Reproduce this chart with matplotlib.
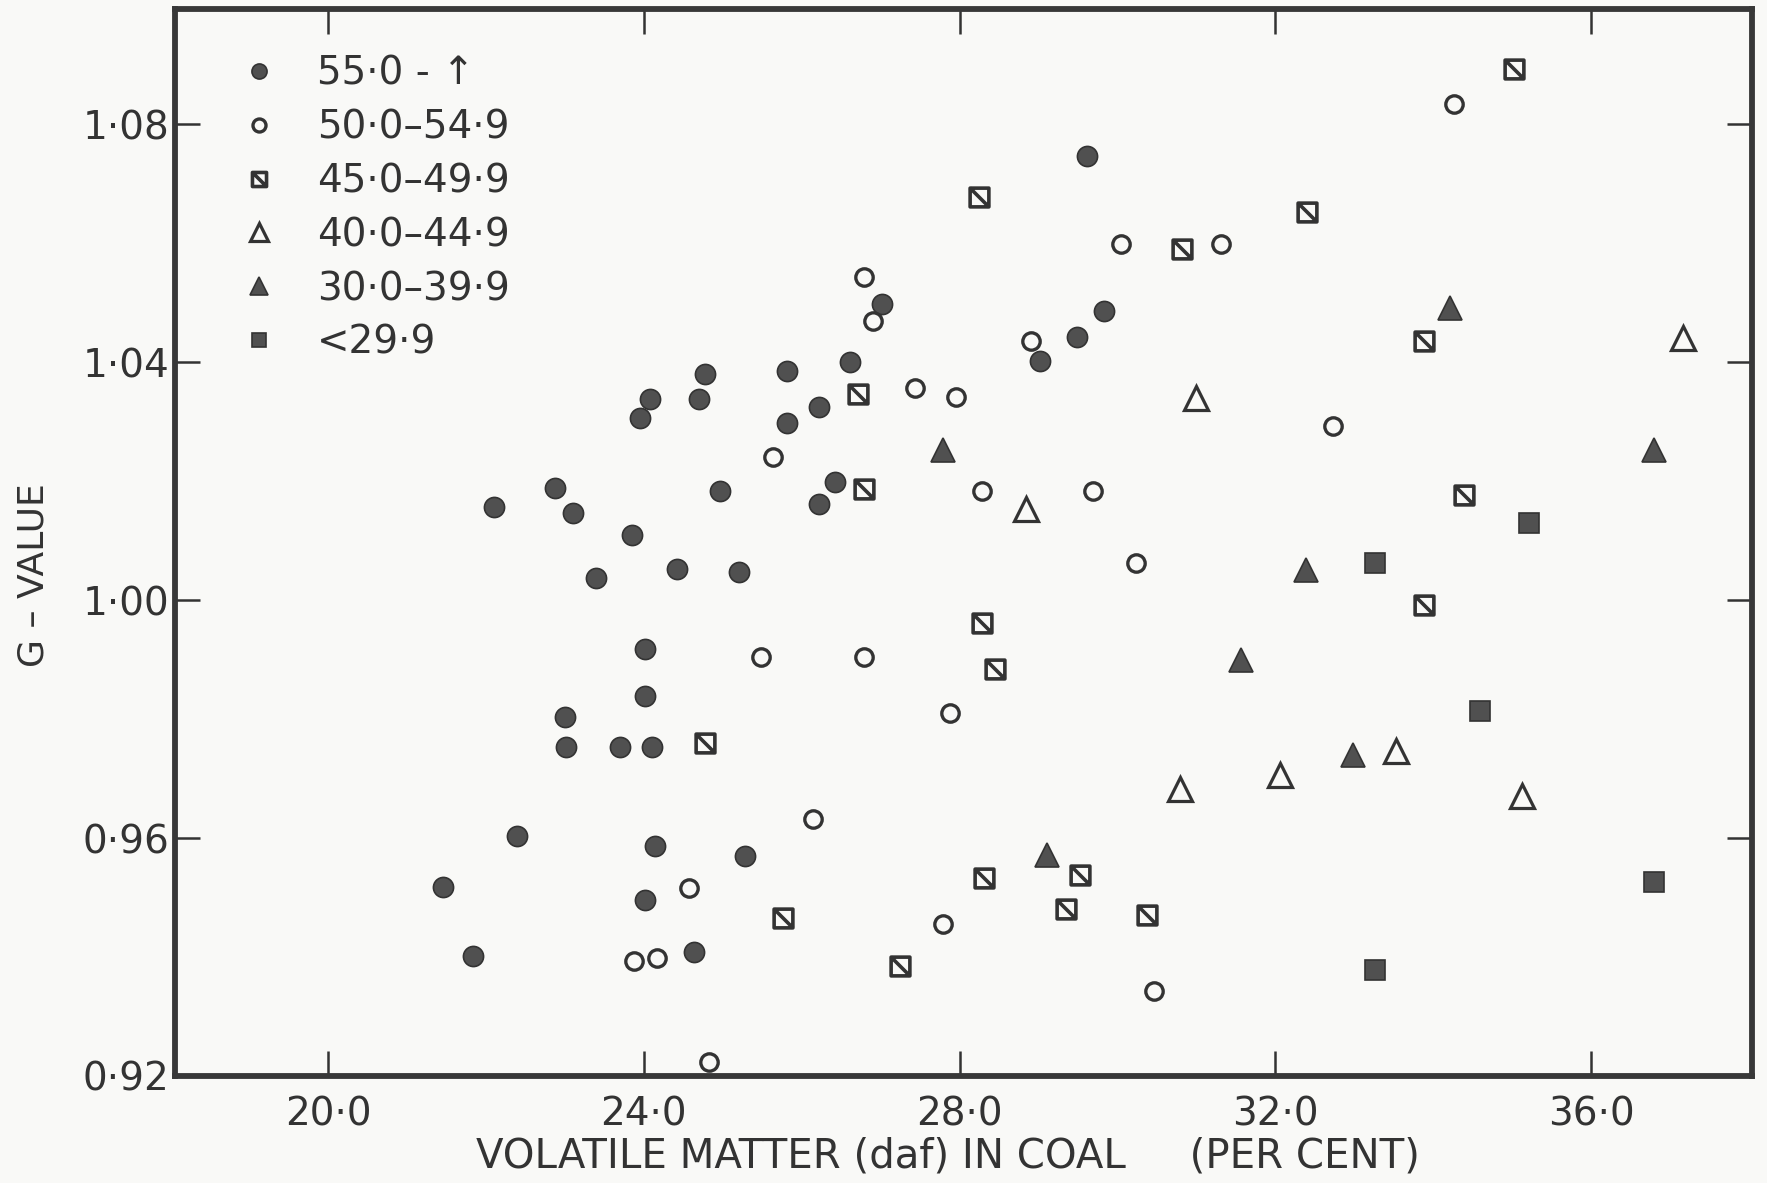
import matplotlib
matplotlib.use('Agg')
import matplotlib.pyplot as plt
from matplotlib.path import Path
from matplotlib.ticker import FuncFormatter

# volatile matter (daf, %) and G-value, grouped by the legend classes
vm_55 = [21.46, 21.84, 22.10, 22.40, 22.88, 23.00, 23.01, 23.10, 23.40, 23.70, 23.85, 23.95,
         24.08, 24.01, 24.01, 24.10, 24.14, 24.01, 24.42, 24.64, 24.70, 24.77, 24.97, 25.20,
         25.28, 25.81, 25.81, 26.22, 26.22, 26.42, 26.61, 27.02, 29.02, 29.49, 29.62, 29.83]
g_55 = [0.9518, 0.9401, 1.0156, 0.9603, 1.0188, 0.9804, 0.9753, 1.0147, 1.0037, 0.9753, 1.0109, 1.0306,
        1.0338, 0.9918, 0.9838, 0.9753, 0.9586, 0.9495, 1.0052, 0.9408, 1.0338, 1.0380, 1.0183, 1.0048,
        0.9569, 1.0385, 1.0298, 1.0325, 1.0162, 1.0198, 1.0400, 1.0497, 1.0402, 1.0442, 1.0747, 1.0486]

vm_50 = [26.79, 26.91, 27.44, 27.95, 25.64, 28.28, 29.69, 28.91, 30.04, 31.31, 34.26, 32.73,
         30.23, 25.48, 26.79, 27.88, 26.15, 24.57, 23.87, 24.17, 24.83, 27.79, 30.46]
g_50 = [1.0544, 1.0469, 1.0357, 1.0342, 1.0241, 1.0183, 1.0183, 1.0435, 1.0599, 1.0599, 1.0834, 1.0293,
        1.0063, 0.9904, 0.9904, 0.9810, 0.9632, 0.9516, 0.9393, 0.9399, 0.9223, 0.9456, 0.9342]

vm_45 = [35.02, 28.25, 32.40, 30.82, 33.89, 26.71, 26.79, 34.39, 33.89, 28.28, 28.45, 24.77,
         28.31, 29.53, 29.35, 30.38, 25.77, 27.24]
g_45 = [1.0893, 1.0677, 1.0652, 1.0590, 1.0436, 1.0347, 1.0187, 1.0177, 0.9991, 0.9961, 0.9885, 0.9759,
        0.9533, 0.9537, 0.9480, 0.9471, 0.9465, 0.9384]

vm_40 = [37.17, 31.00, 28.84, 33.53, 32.06, 30.79, 35.13]
g_40 = [1.0440, 1.0340, 1.0154, 0.9747, 0.9706, 0.9683, 0.9671]

vm_30 = [34.22, 27.79, 36.80, 32.39, 31.56, 32.99, 29.11]
g_30 = [1.0491, 1.0253, 1.0253, 1.0050, 0.9899, 0.9740, 0.9571]

vm_lt = [35.21, 33.26, 34.60, 36.80, 33.27]
g_lt = [1.0130, 1.0062, 0.9813, 0.9526, 0.9378]

labels = ['55·0 - ↑', '50·0–54·9', '45·0–49·9', '40·0–44·9', '30·0–39·9', '<29·9']
x_ticks = [20, 24, 28, 32, 36]
y_ticks = [0.92, 0.96, 1.00, 1.04, 1.08]

ink = '#333333'
fill = '#505050'
bg = '#f9f9f7'

# square with a diagonal stroke (the half-shaded square)
half_sq = Path([(-1, -1), (1, -1), (1, 1), (-1, 1), (-1, -1), (-1, 1), (1, -1)],
               [Path.MOVETO, Path.LINETO, Path.LINETO, Path.LINETO, Path.CLOSEPOLY,
                Path.MOVETO, Path.LINETO])

fig = plt.figure(figsize=(17.67, 11.83), dpi=100, facecolor=bg)
ax = fig.add_axes([0.099, 0.0905, 0.8925, 0.9015])
ax.set_facecolor(bg)

ax.plot(vm_55, g_55, 'o', ms=14.5, mfc=fill, mec=ink, mew=1.2, label=labels[0])
ax.plot(vm_50, g_50, 'o', ms=12.5, mfc='none', mec=ink, mew=2.4, label=labels[1])
ax.plot(vm_45, g_45, marker=half_sq, ls='none', ms=13.5, mfc='none', mec=ink, mew=2.6, label=labels[2])
ax.plot(vm_40, g_40, '^', ms=17, mfc='none', mec=ink, mew=2.3, label=labels[3])
ax.plot(vm_30, g_30, '^', ms=17, mfc=fill, mec=ink, mew=1.2, label=labels[4])
ax.plot(vm_lt, g_lt, 's', ms=14, mfc=fill, mec=ink, mew=1.2, label=labels[5])

ax.set_xlim(18.06, 38.04)
ax.set_ylim(0.92, 1.0993)
ax.set_xticks(x_ticks)
ax.set_yticks(y_ticks)
ax.xaxis.set_major_formatter(FuncFormatter(lambda v, p: f'{v:.1f}'.replace('.', '·')))
ax.yaxis.set_major_formatter(FuncFormatter(lambda v, p: f'{v:.2f}'.replace('.', '·')))

ax.tick_params(direction='in', length=18, width=1.8, top=True, right=True,
               labelsize=28, color=ink, labelcolor='#333333')
ax.tick_params(axis='x', pad=14)
ax.tick_params(axis='y', pad=4)
for s in ax.spines.values():
    s.set_linewidth(4.2)
    s.set_color('#383838')

ax.set_xlabel('VOLATILE MATTER (daf) IN COAL     (PER CENT)', fontsize=29, color='#333333')
ax.xaxis.set_label_coords(0.49, -0.057)
ax.set_ylabel('G – VALUE', fontsize=26, color='#333333')
ax.yaxis.set_label_coords(-0.079, 0.47)

ax.legend(loc='upper left', bbox_to_anchor=(0.041, 0.958), frameon=False, fontsize=28,
          handlelength=1.0, handletextpad=1.0, labelspacing=0.41, borderaxespad=0,
          borderpad=0, markerscale=0.75, labelcolor='#333333')

fig.savefig('out.png', dpi=100, facecolor=bg)
